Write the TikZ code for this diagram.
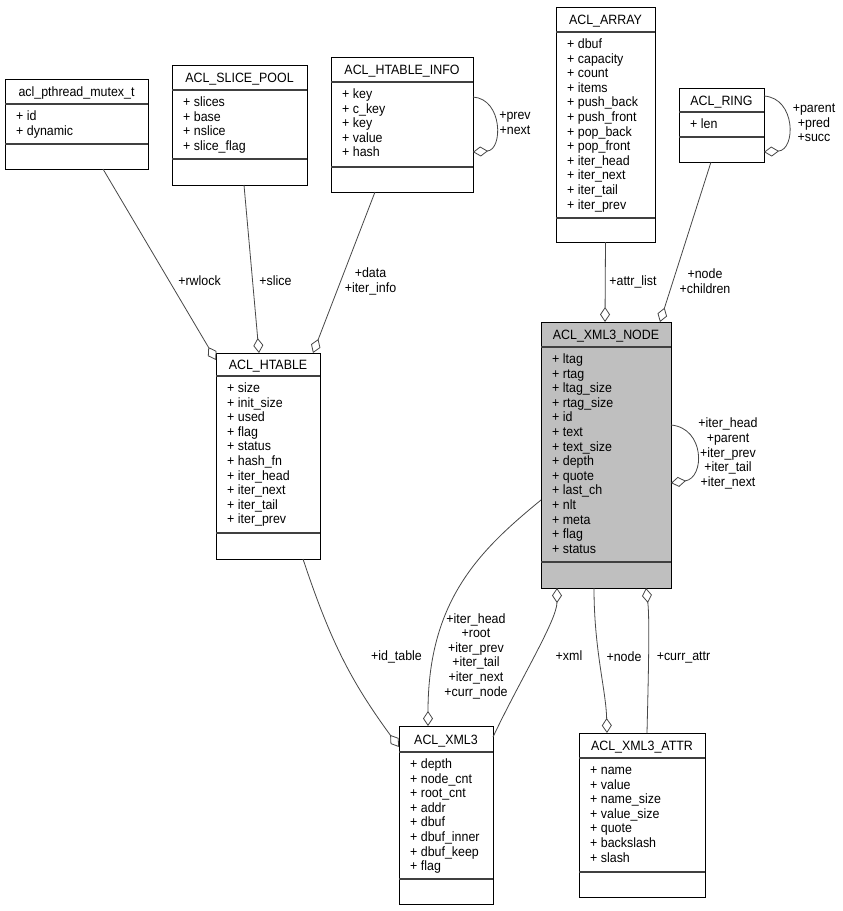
\documentclass[tikz,border=0pt]{standalone}
\usepackage{fontspec}
\setmainfont{Liberation Sans}[FakeStretch=0.92]
\usetikzlibrary{arrows.meta}
\tikzset{
 classbox/.style={draw=black, line width=0.9pt, fill=white, inner sep=0pt, outer sep=0pt},
 sepline/.style={draw=black!75, line width=1.1pt},
 titletext/.style={anchor=base, inner sep=0pt, font=\fontsize{13.5}{14.6}\selectfont},
 fieldtext/.style={anchor=base west, inner sep=0pt, font=\fontsize{13.5}{14.6}\selectfont},
 lbl/.style={inner sep=0pt, align=center, font=\fontsize{13.5}{14.6}\selectfont},
 rel/.style={draw=black!72, line width=0.8pt, -{Diamond[fill=white, length=15pt, width=10pt]}},
}
% name, extra style, left, top, right, sep1, sep2, bottom
\newcommand\umlclass[8]{%
  \node[classbox,#2,minimum width={#5-#3}, minimum height={#8-#4}, anchor=north west] (#1) at (#3,#4) {};
  \draw[sepline] (#3,#6) -- (#5,#6);
  \draw[sepline] (#3,#7) -- (#5,#7);
}
% name, left, right, top, sep1, title, fields
\newcommand\umltext[7]{%
  \node[titletext] (#1-t) at ({(#2+#3)/2}, {(#4+#5)/2+5}) {#6};
  \foreach \t [count=\i] in {#7} {\node[fieldtext] (#1-f\i) at ({#2+11}, {#5+16.5+14.6*(\i-1)}) {\t};}
}
\begin{document}
\begin{tikzpicture}[x=1pt,y=-1pt]
\fill[white] (0,0) rectangle (843,911);
\useasboundingbox (0,0) rectangle (843,911);

\umlclass{mutex}{}{5}{79}{148}{104}{144}{169}
\umltext{mutex}{5}{148}{79}{104}{acl\_pthread\_mutex\_t}{+ id,+ dynamic}

\umlclass{slicepool}{}{172}{65}{307}{90}{159}{185}
\umltext{slicepool}{172}{307}{65}{90}{ACL\_SLICE\_POOL}{+ slices,+ base,+ nslice,+ slice\_flag}

\umlclass{htinfo}{}{331}{57}{473}{82}{167}{192}
\umltext{htinfo}{331}{473}{57}{82}{ACL\_HTABLE\_INFO}{+ key,+ c\_key,+ key,+ value,+ hash}

\umlclass{array}{}{556}{7}{655}{32}{218}{242}
\umltext{array}{556}{655}{7}{32}{ACL\_ARRAY}{+ dbuf,+ capacity,+ count,+ items,+ push\_back,+ push\_front,+ pop\_back,+ pop\_front,+ iter\_head,+ iter\_next,+ iter\_tail,+ iter\_prev}

\umlclass{ring}{}{679}{88}{764}{112}{137}{162}
\umltext{ring}{679}{764}{88}{112}{ACL\_RING}{+ len}

\umlclass{node}{fill={rgb,255:red,191;green,191;blue,191}}{541}{322}{671}{347}{562}{588}
\umltext{node}{541}{671}{322}{347}{ACL\_XML3\_NODE}{+ ltag,+ rtag,+ ltag\_size,+ rtag\_size,+ id,+ text,+ text\_size,+ depth,+ quote,+ last\_ch,+ nlt,+ meta,+ flag,+ status}

\umlclass{htable}{}{216}{353}{320}{376}{533}{559}
\umltext{htable}{216}{320}{353}{376}{ACL\_HTABLE}{+ size,+ init\_size,+ used,+ flag,+ status,+ hash\_fn,+ iter\_head,+ iter\_next,+ iter\_tail,+ iter\_prev}

\umlclass{xml3}{}{399}{726}{493}{752}{879}{904}
\umltext{xml3}{399}{493}{726}{752}{ACL\_XML3}{+ depth,+ node\_cnt,+ root\_cnt,+ addr,+ dbuf,+ dbuf\_inner,+ dbuf\_keep,+ flag}

\umlclass{attr}{}{579}{733}{705}{758}{872}{897}
\umltext{attr}{579}{705}{733}{758}{ACL\_XML3\_ATTR}{+ name,+ value,+ name\_size,+ value\_size,+ quote,+ backslash,+ slash}

% relations
\draw[rel] ([xshift=98pt]mutex.south west) -- ([yshift=-7pt]htable.north west);
\draw[rel] ([xshift=72pt]slicepool.south west) -- ([xshift=43pt]htable.north west);
\draw[rel] ([xshift=44pt]htinfo.south west) -- ([xshift=97pt]htable.north west);
\draw[rel] ([yshift=-40pt]htinfo.north east) .. controls (503,99) and (503,150) .. ([yshift=-95pt]htinfo.north east);
\draw[rel] (array.south) -- ([xshift=64pt]node.north west);
\draw[rel] ([xshift=32pt]ring.south west) -- ([xshift=119pt]node.north west);
\draw[rel] ([yshift=-8pt]ring.north east) .. controls (796,98) and (796,150) .. ([yshift=-64pt]ring.north east);
\draw[rel] ([yshift=-103pt]node.north east) .. controls (705,428) and (705,478) .. ([yshift=-161pt]node.north east);
\draw[rel] ([yshift=-178pt]node.north west) .. controls (480,550) and (428,600) .. ([xshift=29pt]xml3.north west);
\draw[rel] ([yshift=-11pt]xml3.north east) .. controls (520,680) and (557,620) .. ([xshift=16pt]node.south west);
\draw[rel] ([xshift=87pt]htable.south west) .. controls (330,640) and (350,680) .. ([yshift=-21pt]xml3.north west);
\draw[rel] ([xshift=53pt]node.south west) .. controls (594,650) and (606,690) .. ([xshift=28pt]attr.north west);
\draw[rel] ([xshift=68pt]attr.north west) .. controls (648,690) and (650,620) .. ([xshift=105pt]node.south west);

% labels
\node[lbl] (l-rwlock) at (199.5,281) {+rwlock};
\node[lbl] (l-slice) at (275.5,281) {+slice};
\node[lbl] (l-data) at (370.5,281.5) {+data\\+iter\_info};
\node[lbl] (l-prevnext) at (515,123) {+prev\\+next};
\node[lbl] (l-ring) at (814,123) {+parent\\+pred\\+succ};
\node[lbl] (l-attrlist) at (633,282) {+attr\_list};
\node[lbl] (l-nodechildren) at (705,281) {+node\\+children};
\node[lbl] (l-nodeloop) at (728,453.5) {+iter\_head\\+parent\\+iter\_prev\\+iter\_tail\\+iter\_next};
\node[lbl] (l-xml3) at (476,656) {+iter\_head\\+root\\+iter\_prev\\+iter\_tail\\+iter\_next\\+curr\_node};
\node[lbl] (l-idtable) at (396.5,657) {+id\_table};
\node[lbl] (l-xml) at (569,656) {+xml};
\node[lbl] (l-node) at (624,657) {+node};
\node[lbl] (l-currattr) at (683.5,657) {+curr\_attr};
\end{tikzpicture}
\end{document}
